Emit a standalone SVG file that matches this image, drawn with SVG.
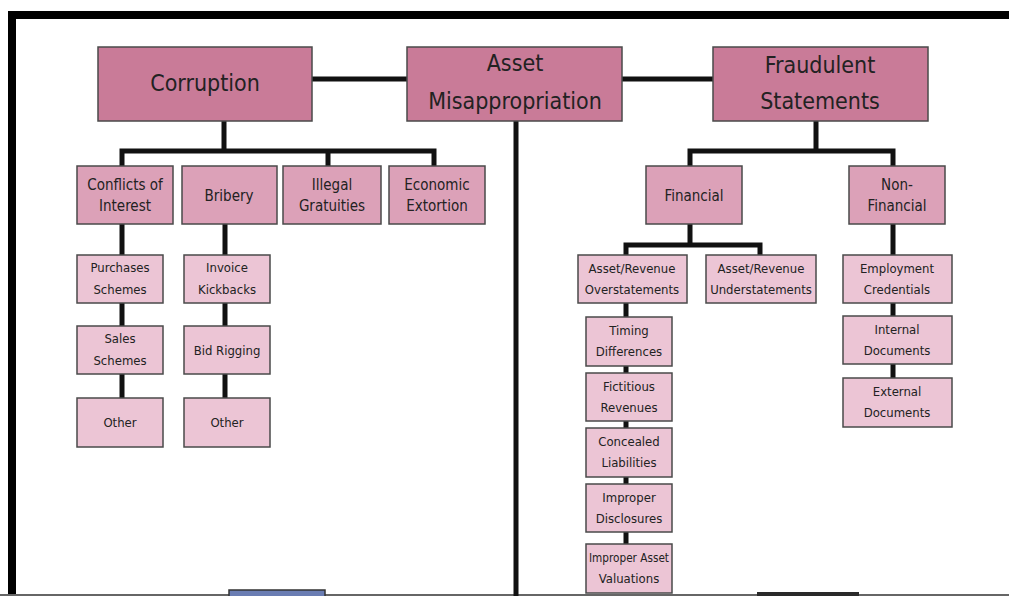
<svg xmlns="http://www.w3.org/2000/svg" width="1009" height="596" viewBox="0 0 1009 596">
<style>
.t{font-family:"DejaVu Sans Condensed","DejaVu Sans","Liberation Sans",sans-serif;fill:#222;text-anchor:middle}
.b1{fill:#c97b98;stroke:#4a4a4a;stroke-width:1.5}
.b2{fill:#dca1b8;stroke:#4a4a4a;stroke-width:1.5}
.b3{fill:#ecc5d5;stroke:#4a4a4a;stroke-width:1.5}
.f1{font-size:23px}
.f2{font-size:15px}
.f3{font-size:13px}
.c{stroke:#111;stroke-width:5;fill:none}
</style>
<rect x="0" y="0" width="1009" height="596" fill="#fff"/>
<g id="frame">
<rect x="8" y="11" width="1001" height="8" fill="#000"/>
<rect x="8" y="11" width="8" height="585" fill="#000"/>
<line x1="0" y1="595" x2="1009" y2="595" stroke="#666" stroke-width="2"/>
</g>
<g id="connectors">
<line class="c" x1="312" y1="79" x2="407" y2="79"/>
<line class="c" x1="622" y1="79" x2="713" y2="79"/>
<line class="c" x1="516" y1="121" x2="516" y2="596"/>
<path class="c" d="M224 121V151M122 166V151H434V166M328 151V166"/>
<line class="c" x1="122" y1="224" x2="122" y2="400"/>
<line class="c" x1="225" y1="224" x2="225" y2="400"/>
<path class="c" d="M816 121V151M690 166V151H893V166"/>
<path class="c" d="M690 224V245M626 255V245H760V255"/>
<line class="c" x1="626" y1="303" x2="626" y2="546"/>
<line class="c" x1="893" y1="224" x2="893" y2="380"/>
</g>
<g id="corruption"><rect class="b1" x="98" y="47" width="214" height="74"/><text class="t f1" x="205" y="91">Corruption</text></g>
<g id="asset-misappropriation"><rect class="b1" x="407" y="47" width="215" height="74"/><text class="t f1" x="515" y="71">Asset</text><text class="t f1" x="515" y="109">Misappropriation</text></g>
<g id="fraudulent-statements"><rect class="b1" x="713" y="47" width="215" height="74"/><text class="t f1" x="820" y="73">Fraudulent</text><text class="t f1" x="820" y="109">Statements</text></g>

<g id="conflicts"><rect class="b2" x="77" y="166" width="96" height="58"/><text class="t f2" x="125" y="190">Conflicts of</text><text class="t f2" x="125" y="211">Interest</text></g>
<g id="bribery"><rect class="b2" x="182" y="166" width="95" height="58"/><text class="t f2" x="229" y="201">Bribery</text></g>
<g id="illegal-gratuities"><rect class="b2" x="283" y="166" width="98" height="58"/><text class="t f2" x="332" y="190">Illegal</text><text class="t f2" x="332" y="211">Gratuities</text></g>
<g id="economic-extortion"><rect class="b2" x="389" y="166" width="96" height="58"/><text class="t f2" x="437" y="190">Economic</text><text class="t f2" x="437" y="211">Extortion</text></g>
<g id="financial"><rect class="b2" x="646" y="166" width="96" height="58"/><text class="t f2" x="694" y="201">Financial</text></g>
<g id="non-financial"><rect class="b2" x="849" y="166" width="96" height="58"/><text class="t f2" x="897" y="190">Non-</text><text class="t f2" x="897" y="211">Financial</text></g>

<g id="purchases-schemes"><rect class="b3" x="77" y="255" width="86" height="48"/><text class="t f3" x="120" y="272">Purchases</text><text class="t f3" x="120" y="294">Schemes</text></g>
<g id="sales-schemes"><rect class="b3" x="77" y="326" width="86" height="48"/><text class="t f3" x="120" y="343">Sales</text><text class="t f3" x="120" y="365">Schemes</text></g>
<g id="other-1"><rect class="b3" x="77" y="398" width="86" height="49"/><text class="t f3" x="120" y="427">Other</text></g>
<g id="invoice-kickbacks"><rect class="b3" x="184" y="255" width="86" height="48"/><text class="t f3" x="227" y="272">Invoice</text><text class="t f3" x="227" y="294">Kickbacks</text></g>
<g id="bid-rigging"><rect class="b3" x="184" y="326" width="86" height="48"/><text class="t f3" x="227" y="355">Bid Rigging</text></g>
<g id="other-2"><rect class="b3" x="184" y="398" width="86" height="49"/><text class="t f3" x="227" y="427">Other</text></g>

<g id="overstatements"><rect class="b3" x="578" y="255" width="109" height="48"/><text class="t f3" x="632" y="273">Asset/Revenue</text><text class="t f3" x="632" y="294">Overstatements</text></g>
<g id="understatements"><rect class="b3" x="706" y="255" width="110" height="48"/><text class="t f3" x="761" y="273">Asset/Revenue</text><text class="t f3" x="761" y="294">Understatements</text></g>
<g id="timing-differences"><rect class="b3" x="586" y="317" width="86" height="49"/><text class="t f3" x="629" y="335">Timing</text><text class="t f3" x="629" y="356">Differences</text></g>
<g id="fictitious-revenues"><rect class="b3" x="586" y="373" width="86" height="48"/><text class="t f3" x="629" y="391">Fictitious</text><text class="t f3" x="629" y="412">Revenues</text></g>
<g id="concealed-liabilities"><rect class="b3" x="586" y="428" width="86" height="49"/><text class="t f3" x="629" y="446">Concealed</text><text class="t f3" x="629" y="467">Liabilities</text></g>
<g id="improper-disclosures"><rect class="b3" x="586" y="484" width="86" height="48"/><text class="t f3" x="629" y="502">Improper</text><text class="t f3" x="629" y="523">Disclosures</text></g>
<g id="improper-asset-valuations"><rect class="b3" x="586" y="544" width="86" height="49"/><text class="t f3" x="629" y="562" textLength="80" lengthAdjust="spacingAndGlyphs">Improper Asset</text><text class="t f3" x="629" y="583">Valuations</text></g>

<g id="employment-credentials"><rect class="b3" x="843" y="255" width="109" height="48"/><text class="t f3" x="897" y="273">Employment</text><text class="t f3" x="897" y="294">Credentials</text></g>
<g id="internal-documents"><rect class="b3" x="843" y="316" width="109" height="48"/><text class="t f3" x="897" y="334">Internal</text><text class="t f3" x="897" y="355">Documents</text></g>
<g id="external-documents"><rect class="b3" x="843" y="378" width="109" height="49"/><text class="t f3" x="897" y="396">External</text><text class="t f3" x="897" y="417">Documents</text></g>

<g id="bottom-blue"><rect x="229" y="590" width="96" height="10" fill="#6a7db3" stroke="#333" stroke-width="1.5"/></g>
<g id="bottom-dark"><rect x="757" y="592" width="102" height="8" fill="#2a2a2a"/></g>
</svg>
